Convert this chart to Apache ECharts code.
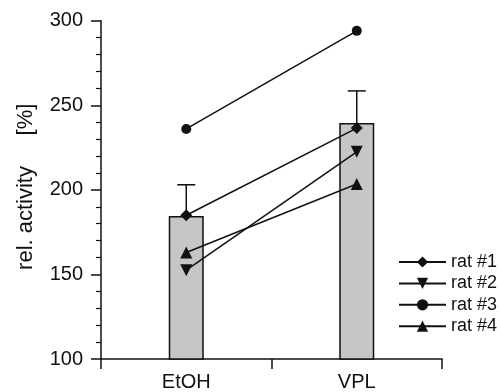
<!DOCTYPE html>
<html>
<head>
<meta charset="utf-8">
<script src="https://cdn.jsdelivr.net/npm/echarts@6/dist/echarts.min.js"></script>
<style>html,body{margin:0;padding:0;background:#fff}#c{width:502px;height:392px}</style>
</head>
<body>
<div id="c"></div>
<script>
const categories = ['EtOH', 'VPL'];
const meanValues = [184.5, 239.5];
const errorUpper = [203, 258.5];
const rat1 = [185, 236.5];
const rat2 = [152.5, 222.5];
const rat3 = [236, 294];
const rat4 = [163, 203.5];
const yTicks = [100, 150, 200, 250, 300];

const FONT = 'Liberation Sans';
const chart = echarts.init(document.getElementById('c'));

function ratSeries(name, data, symbol, size) {
  return {
    name: name, type: 'line', data: data, symbol: symbol, symbolSize: size,
    itemStyle: { color: '#111' }, lineStyle: { color: '#111', width: 1.5 },
    z: 5, animation: false
  };
}

chart.setOption({
  animation: false,
  grid: { left: 101, right: 60, top: 20.7, bottom: 31 },
  legend: {
    orient: 'vertical', left: 398, top: 253, padding: 0,
    itemWidth: 47, itemHeight: 14, itemGap: 3.4,
    textStyle: { fontFamily: FONT, fontSize: 18, color: '#111', lineHeight: 18 },
    data: ['rat #1', 'rat #2', 'rat #3', 'rat #4']
  },
  xAxis: {
    type: 'category', data: categories, boundaryGap: true,
    axisLine: { lineStyle: { color: '#111', width: 1.5 } },
    axisTick: { show: true, length: 10, lineStyle: { color: '#111', width: 1.5 } },
    axisLabel: { fontFamily: FONT, fontSize: 20, color: '#111', margin: 13 }
  },
  yAxis: {
    type: 'value', min: yTicks[0], max: yTicks[yTicks.length - 1], interval: 50,
    name: ' rel. activity     [%]', nameLocation: 'middle', nameGap: 64,
    nameTextStyle: { fontFamily: FONT, fontSize: 22, color: '#111' },
    axisLine: { show: true, lineStyle: { color: '#111', width: 1.5 } },
    axisTick: { show: true, length: 10, lineStyle: { color: '#111', width: 1.5 } },
    minorTick: { show: true, splitNumber: 5, length: 5, lineStyle: { color: '#111', width: 1.2 } },
    splitLine: { show: false },
    axisLabel: { fontFamily: FONT, fontSize: 20, color: '#111', margin: 18 }
  },
  series: [
    {
      type: 'bar', data: meanValues, barWidth: 35,
      itemStyle: { color: '#c6c6c6', borderColor: '#111', borderWidth: 1.5 },
      z: 2, legendHoverLink: false
    },
    {
      type: 'custom', z: 3,
      data: categories.map((c, i) => [i, meanValues[i], errorUpper[i]]),
      renderItem: function (params, api) {
        const base = api.coord([api.value(0), api.value(1)]);
        const top = api.coord([api.value(0), api.value(2)]);
        const hw = 9;
        return {
          type: 'group',
          children: [
            { type: 'line', shape: { x1: base[0], y1: base[1], x2: top[0], y2: top[1] }, style: { stroke: '#111', lineWidth: 1.5 } },
            { type: 'line', shape: { x1: top[0] - hw, y1: top[1], x2: top[0] + hw, y2: top[1] }, style: { stroke: '#111', lineWidth: 1.5 } }
          ]
        };
      }
    },
    ratSeries('rat #1', rat1, 'diamond', 12),
    ratSeries('rat #2', rat2, 'path://M0,0 L10,0 L5,9 Z', 12),
    ratSeries('rat #3', rat3, 'circle', 10),
    ratSeries('rat #4', rat4, 'triangle', 12)
  ]
});
</script>
</body>
</html>
